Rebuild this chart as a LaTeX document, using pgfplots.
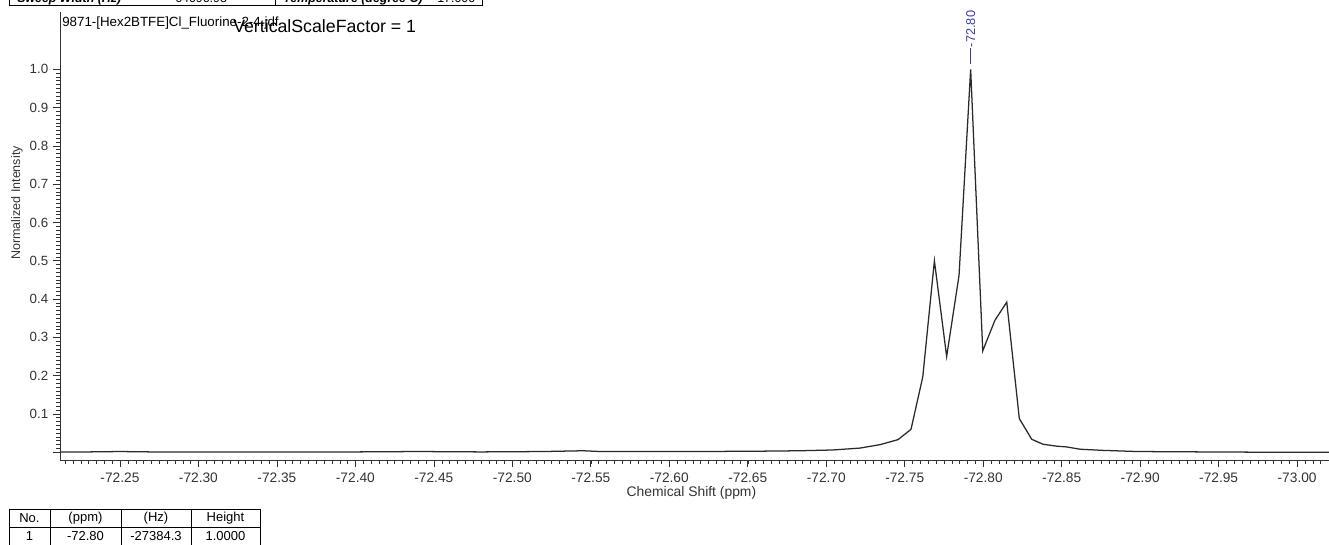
\documentclass[border=0pt]{standalone}
\usepackage{pgfplots}
\pgfplotsset{compat=1.18}
\usepackage{fontspec}
\setmainfont{Liberation Sans}

\definecolor{peakblue}{HTML}{3C3CB0}
\definecolor{ink}{HTML}{333333}
\definecolor{trace}{HTML}{2A2A2A}

\begin{document}
\begin{tikzpicture}
% header table, cut off by the top edge
\draw[black, line width=0.6pt] (6.75pt,412pt) -- (6.75pt,405pt) -- (362pt,405pt) -- (362pt,412pt);
\draw[black, line width=0.6pt] (206.25pt,405pt) -- (206.25pt,412pt);
\begin{scope}[every node/.style={anchor=base west, inner sep=0pt}]
\node[font=\fontsize{9.3}{11}\selectfont\bfseries\itshape] at (12.75pt,406.6pt) {Sweep Width (Hz)};
\node[font=\fontsize{9.3}{11}\selectfont] at (131.25pt,406.6pt) {64096.93};
\node[font=\fontsize{9.3}{11}\selectfont\bfseries\itshape] at (212.25pt,406.6pt) {Temperature (degree C)};
\node[font=\fontsize{9.3}{11}\selectfont] at (327.75pt,406.6pt) {17.000};
\end{scope}

\begin{axis}[
  at={(45pt,63.75pt)}, anchor=south west,
  scale only axis, width=951.75pt, height=336pt,
  x dir=reverse,
  xmin=-73.0203, xmax=-72.2118,
  ymin=-0.0201, ymax=1.1496,
  axis x line*=bottom, axis y line*=left,
  axis line style={ink, line width=0.6pt},
  tick align=outside,
  major tick length=5.25pt, minor tick length=3pt,
  every tick/.style={ink, line width=0.5pt},
  xtick={-73.00,-72.95,-72.90,-72.85,-72.80,-72.75,-72.70,-72.65,-72.60,-72.55,-72.50,-72.45,-72.40,-72.35,-72.30,-72.25},
  minor xtick={-73.015,-73.010,...,-72.210},
  ytick={0,0.1,0.2,0.3,0.4,0.5,0.6,0.7,0.8,0.9,1.0},
  yticklabels={,0.1,0.2,0.3,0.4,0.5,0.6,0.7,0.8,0.9,1.0},
  minor ytick={0,0.01,...,1.0},
  /pgf/number format/assume math mode=true,
  xticklabel style={font=\fontsize{10.3}{12}\selectfont, text=ink, yshift=-1pt,
    /pgf/number format/.cd, fixed, fixed zerofill, precision=2},
  yticklabel style={font=\fontsize{10}{12}\selectfont, text=ink},
  xlabel={Chemical Shift (ppm)},
  xlabel style={font=\fontsize{10.4}{12}\selectfont, text=ink,
    at={(axis description cs:0.4976,-0.0740)}, anchor=center},
  ylabel={Normalized Intensity},
  ylabel style={font=\fontsize{9.4}{11}\selectfont, text=ink,
    at={(axis description cs:-0.0339,0.5737)}, anchor=center},
  clip=false,
]
\addplot[trace, line width=0.95pt, line join=miter] coordinates {
  (-72.2118,0.001) (-72.2300,0.001) (-72.2500,0.002) (-72.2700,0.001)
  (-72.3000,0.001) (-72.3300,0.001) (-72.3600,0.001) (-72.4000,0.001)
  (-72.4400,0.002) (-72.4800,0.001) (-72.5200,0.002) (-72.5450,0.004)
  (-72.5560,0.002) (-72.5800,0.002) (-72.6200,0.002) (-72.6600,0.003)
  (-72.6830,0.004) (-72.7040,0.006) (-72.7215,0.011) (-72.7343,0.020)
  (-72.7457,0.033) (-72.7540,0.060) (-72.7615,0.197) (-72.7689,0.500)
  (-72.7767,0.250) (-72.7846,0.462) (-72.7920,1.000) (-72.7997,0.265)
  (-72.8075,0.345) (-72.8150,0.392) (-72.8230,0.088) (-72.8309,0.034)
  (-72.8381,0.021) (-72.8468,0.016) (-72.8532,0.014) (-72.8617,0.008)
  (-72.8764,0.005) (-72.8980,0.002) (-72.9400,0.001) (-72.9900,0.000)
  (-73.0203,0.000)
};
% peak annotation
\draw[peakblue, line width=0.7pt] ([yshift=3.75pt]axis cs:-72.7920,1.0) -- ([yshift=15.75pt]axis cs:-72.7920,1.0)
  node[anchor=west, rotate=90, inner sep=0.5pt, text=peakblue,
       font=\fontsize{9.6}{11}\selectfont] {-72.80};
\end{axis}

% file name and scale factor
\node[anchor=west, inner sep=0pt, font=\fontsize{10}{12}\selectfont] at (46.5pt,391.5pt)
  {9871-[Hex2BTFE]Cl\_Fluorine-2-4.jdf};
\node[anchor=west, inner sep=0pt, font=\fontsize{13.3}{15}\selectfont] at (174.75pt,389.3pt)
  {VerticalScaleFactor = 1};

% peak table
\draw[black, line width=0.6pt] (6.75pt,-2pt) -- (6.75pt,27pt) -- (195pt,27pt) -- (195pt,-2pt);
\draw[black, line width=0.6pt] (6.75pt,13.5pt) -- (195pt,13.5pt);
\foreach \cx in {37.5,90.75,143.25} \draw[black, line width=0.6pt] (\cx pt,-2pt) -- (\cx pt,27pt);
\begin{scope}[every node/.style={font=\fontsize{9.75}{11}\selectfont, anchor=center}]
\node at (22.1pt,20.25pt) {No.};
\node at (64.1pt,20.25pt) {(ppm)};
\node at (117pt,20.25pt) {(Hz)};
\node at (169.1pt,20.25pt) {Height};
\node at (22.1pt,6.75pt) {1};
\node at (64.1pt,6.75pt) {-72.80};
\node at (117pt,6.75pt) {-27384.3};
\node at (169.1pt,6.75pt) {1.0000};
\end{scope}

\pgfresetboundingbox
\useasboundingbox (0pt,0pt) rectangle (996.75pt,408.75pt);
\end{tikzpicture}
\end{document}
